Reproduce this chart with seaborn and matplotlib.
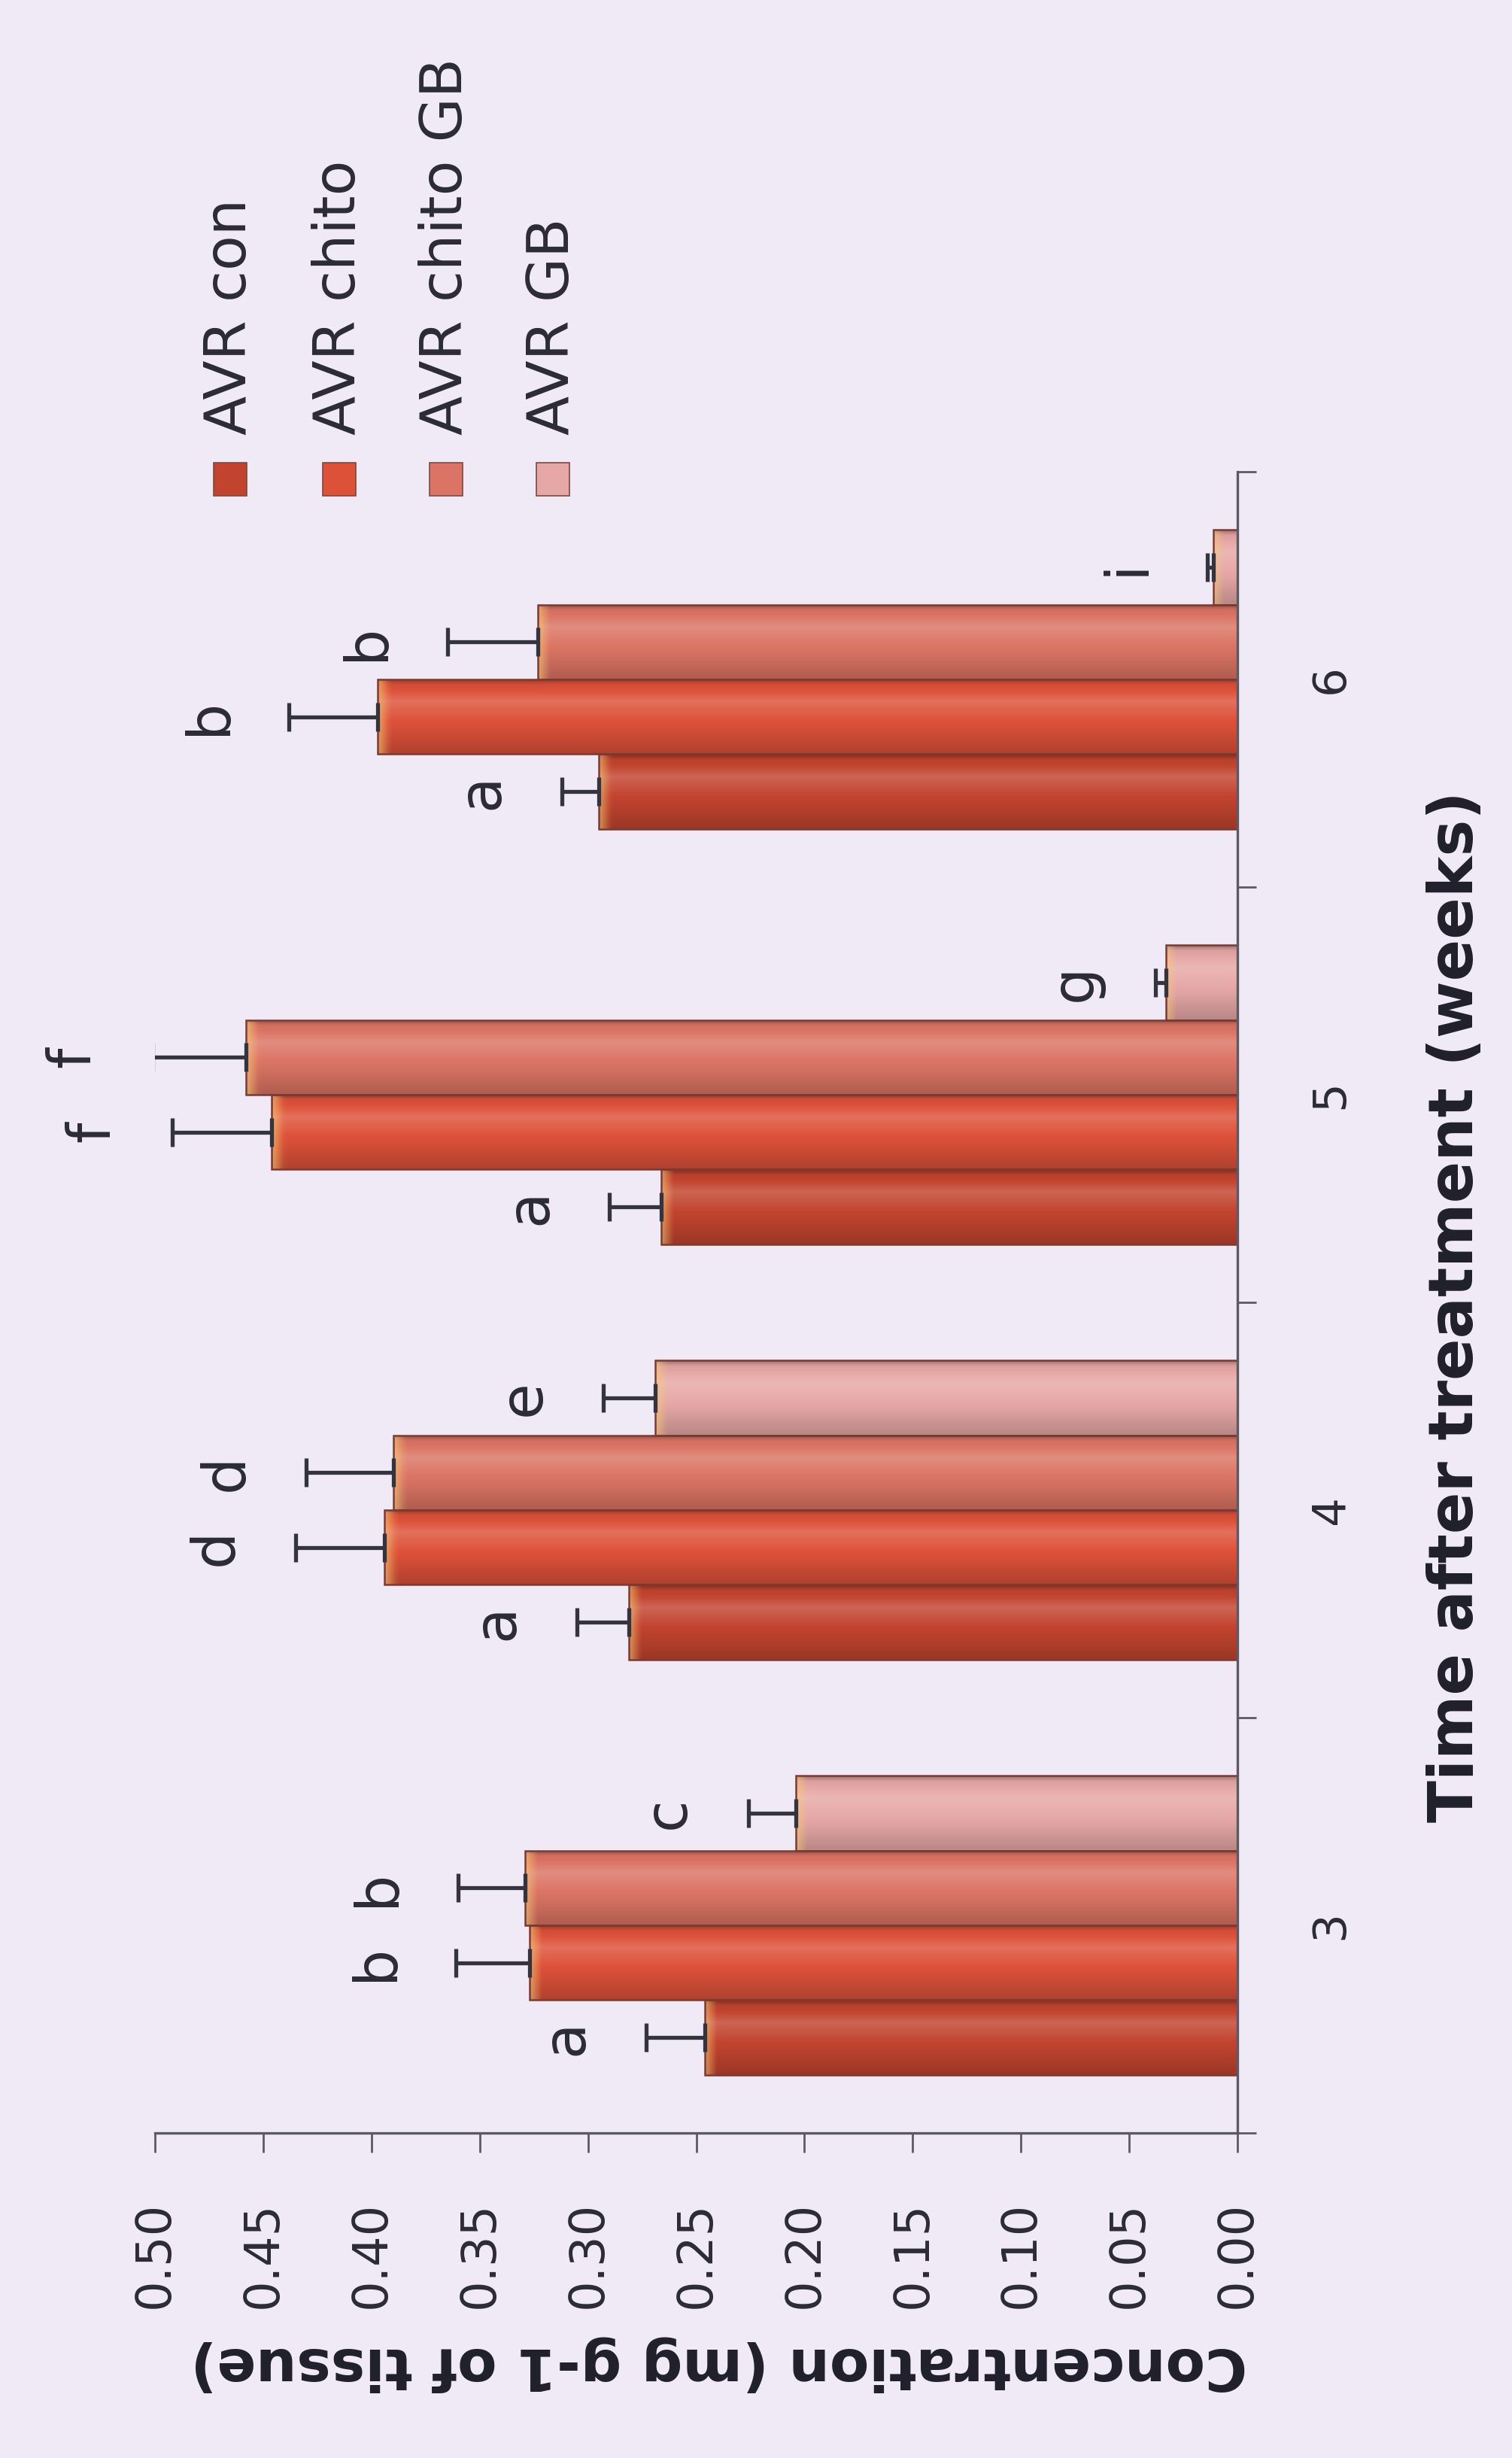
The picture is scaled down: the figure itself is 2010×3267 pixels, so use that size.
import numpy as np
import pandas as pd
import matplotlib
matplotlib.use("Agg")
import matplotlib.pyplot as plt
import matplotlib.colors as mcolors
from matplotlib.patches import Rectangle
from matplotlib.container import BarContainer
import seaborn as sns

# ---------------- data ----------------
weeks = ["3", "4", "5", "6"]
treatments = ["AVR con", "AVR chito", "AVR chito GB", "AVR GB"]

con_mean = [0.246, 0.281, 0.266, 0.295]
chito_mean = [0.327, 0.394, 0.446, 0.397]
chitogb_mean = [0.329, 0.390, 0.458, 0.323]
gb_mean = [0.204, 0.269, 0.033, 0.011]

con_err = [0.027, 0.024, 0.024, 0.017]
chito_err = [0.034, 0.041, 0.046, 0.041]
chitogb_err = [0.031, 0.040, 0.043, 0.042]
gb_err = [0.022, 0.024, 0.005, 0.003]

con_letters = ["a", "a", "a", "a"]
chito_letters = ["b", "d", "f", "b"]
chitogb_letters = ["b", "d", "f", "b"]
gb_letters = ["c", "e", "g", "i"]

value_ticks = [0.00, 0.05, 0.10, 0.15, 0.20, 0.25, 0.30, 0.35, 0.40, 0.45, 0.50]

x_label = "Concentration (mg g-1 of tissue)"
cat_label = "Time after treatment (weeks)"

# ---------------- styles ----------------
BG = "#efeaf6"
palette = {
    "AVR con": "#c2442f",
    "AVR chito": "#dd5139",
    "AVR chito GB": "#db7464",
    "AVR GB": "#e6a8a6",
}
INK = "#2b2b38"
AXC = "#5a5a66"

means = {"AVR con": con_mean, "AVR chito": chito_mean,
         "AVR chito GB": chitogb_mean, "AVR GB": gb_mean}
errs = {"AVR con": con_err, "AVR chito": chito_err,
        "AVR chito GB": chitogb_err, "AVR GB": gb_err}
letters = {"AVR con": con_letters, "AVR chito": chito_letters,
           "AVR chito GB": chitogb_letters, "AVR GB": gb_letters}

df = pd.DataFrame([
    {"week": w, "treatment": t, "value": means[t][i]}
    for t in treatments for i, w in enumerate(weeks)
])

sns.set_theme(style="white")
plt.rcParams["font.family"] = ["DejaVu Sans"]

W, H = 2010, 3267
fig = plt.figure(figsize=(W / 100, H / 100), dpi=100, facecolor=BG)
ax = fig.add_axes([206 / W, 1 - 2835 / H, (1645 - 206) / W, (2835 - 627) / H])
ax.set_facecolor(BG)

cat_order = weeks[::-1]          # 6 at top, 3 at bottom
hue_order = treatments[::-1]     # con at bottom of each group

sns.barplot(data=df, x="value", y="week", hue="treatment", order=cat_order,
            hue_order=hue_order, orient="h", palette=palette, saturation=1,
            width=0.72, errorbar=None, legend=False, edgecolor="#7a3a32",
            linewidth=1.8, ax=ax)

hex2t = {mcolors.to_hex(c): t for t, c in palette.items()}


def bar_image(base, w, n_rows=90, n_cols=200):
    base = np.array(mcolors.to_rgb(base))
    t = np.linspace(0, 1, n_rows)
    m = np.interp(t, [0, 0.07, 0.3, 0.65, 1.0], [0.68, 0.95, 1.09, 0.97, 0.80])[:, None]
    col = np.where(m >= 1, base + (1 - base) * (m - 1) * 2.0, base * m)
    img = np.repeat(col[:, None, :], n_cols, axis=1)
    s = np.linspace(0, w, n_cols)
    tip = np.clip((s - (w - 0.005)) / 0.005, 0, 1)[None, :, None]
    yellow = np.array([0.98, 0.80, 0.45])
    img = img * (1 - 0.55 * tip) + yellow * 0.55 * tip
    return np.clip(img, 0, 1)


bar_patches = [p for c in list(ax.containers) if isinstance(c, BarContainer)
               for p in c.patches]

for p in bar_patches:
    tname = hex2t.get(mcolors.to_hex(p.get_facecolor()[:3]))
    if tname is None:
        continue
    x0, y0 = p.get_x(), p.get_y()
    w, h = p.get_width(), p.get_height()
    yc = y0 + h / 2
    ci = int(round(yc))
    wk = cat_order[ci]
    idx = weeks.index(wk)
    img = bar_image(palette[tname], w)
    im = ax.imshow(img, extent=(x0, x0 + w, y0 + h, y0), aspect="auto",
                   origin="upper", interpolation="bilinear",
                   zorder=p.get_zorder() - 0.05)
    im.set_clip_path(p)
    p.set_facecolor("none")
    e = errs[tname][idx]
    ax.errorbar(w, yc, xerr=[[0], [e]], fmt="none", ecolor="#34343f",
                elinewidth=3.8, capsize=14, capthick=3.8, zorder=5)
    ax.text(w + e + 0.037, yc, letters[tname][idx], rotation=90,
            ha="center", va="center", fontsize=56, color=INK, zorder=6,
            clip_on=False)

# ---------------- axes ----------------
ax.set_xlim(0.5, 0.0)
ax.set_ylim(3.5, -0.5)
ax.set_xlabel("")
ax.set_ylabel("")

ax.set_xticks(value_ticks)
ax.set_xticklabels([f"{v:.2f}" for v in value_ticks])
ax.tick_params(axis="x", which="major", direction="out", length=19, width=2,
               pad=46, labelsize=46, labelrotation=90, color=AXC,
               labelcolor=INK, bottom=True, top=False)

ax.yaxis.tick_right()
ax.set_yticks([-0.5, 0.5, 1.5, 2.5, 3.5])
ax.set_yticklabels([])
ax.set_yticks([0, 1, 2, 3], minor=True)
ax.set_yticklabels(cat_order, minor=True)
ax.tick_params(axis="y", which="major", direction="out", length=18, width=2,
               color=AXC, right=True, left=False)
ax.tick_params(axis="y", which="minor", length=0, pad=68, labelsize=44,
               labelrotation=90, labelcolor=INK, right=True, left=False,
               labelright=True, labelleft=False)
for lab in ax.get_yticklabels(minor=True):
    lab.set_va("center")

for s in ["left", "top"]:
    ax.spines[s].set_visible(False)
for s in ["right", "bottom"]:
    ax.spines[s].set_color(AXC)
    ax.spines[s].set_linewidth(2.4)

# ---------------- titles ----------------
fig.text(956 / W, 1 - 3142 / H, x_label, rotation=180, ha="center",
         va="center", fontsize=55, fontweight="bold", color="#20202c")
fig.text(1935 / W, 1 - 1737 / H, cat_label, rotation=90, ha="center",
         va="center", fontsize=59, fontweight="bold", color="#20202c")

# ---------------- legend (manual, rotated) ----------------
leg_x = [306, 451, 593, 735]
sq = 44
for xc, t in zip(leg_x, treatments):
    fig.add_artist(Rectangle(((xc - sq / 2) / W, 1 - (637 + sq / 2) / H),
                             sq / W, sq / H, transform=fig.transFigure,
                             facecolor=palette[t], edgecolor="#7a4a40",
                             linewidth=1.2))
    fig.text(xc / W, 1 - 578 / H, t, rotation=90, ha="center", va="bottom",
             fontsize=55, color=INK)

fig.savefig("out.png", dpi=100, facecolor=BG)
